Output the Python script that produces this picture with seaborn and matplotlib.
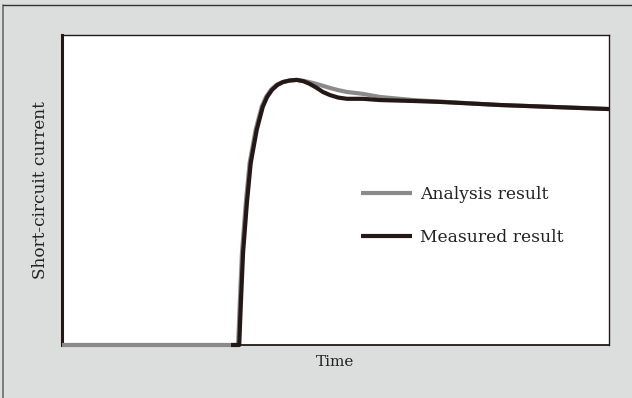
import numpy as np
import pandas as pd
import matplotlib
matplotlib.use("Agg")
import matplotlib.pyplot as plt
import seaborn as sns
from matplotlib.lines import Line2D

# Data (arbitrary time units 0-100, normalised current 0-1)
analysis_t = [0.0, 31.1, 32.2, 32.5, 32.9, 33.6, 34.3, 35.4, 36.5, 37.3, 38.2, 39.2, 40.3, 41.6, 42.9, 44.4, 45.9, 47.5, 49.0, 50.5, 52.1, 55.0, 58.1, 64.2, 69.1, 80.1, 100.0]
analysis_i = [0.0, 0.0, 0.0, 0.135, 0.297, 0.458, 0.587, 0.694, 0.768, 0.800, 0.823, 0.839, 0.848, 0.853, 0.855, 0.851, 0.845, 0.837, 0.829, 0.822, 0.816, 0.810, 0.800, 0.790, 0.785, 0.774, 0.761]

measured_t = [30.9, 32.4, 32.7, 33.1, 33.8, 34.5, 35.6, 36.7, 37.5, 38.4, 39.4, 40.4, 41.6, 42.9, 44.1, 45.3, 46.5, 47.7, 49.0, 50.5, 52.1, 55.0, 58.1, 64.2, 69.1, 80.1, 100.0]
measured_i = [0.0, 0.0, 0.135, 0.297, 0.458, 0.587, 0.694, 0.768, 0.800, 0.823, 0.839, 0.848, 0.853, 0.855, 0.851, 0.842, 0.830, 0.816, 0.806, 0.798, 0.794, 0.794, 0.790, 0.787, 0.784, 0.774, 0.761]

series_names = ["Analysis result", "Measured result"]
x_label = "Time"
y_label = "Short-circuit current"

df = pd.concat([
    pd.DataFrame({"t": analysis_t, "i": analysis_i, "series": series_names[0]}),
    pd.DataFrame({"t": measured_t, "i": measured_i, "series": series_names[1]}),
])

sns.set_theme(style="white")
plt.rcParams["font.family"] = ["DejaVu Serif"]

ink = "#231815"
gray = "#8a8a8a"
fig = plt.figure(figsize=(6.32, 3.98), dpi=100, facecolor="#dcdedd")
ax = fig.add_axes([0.0981, 0.1332, 0.8655, 0.779])
ax.set_facecolor("white")

sns.lineplot(data=df, x="t", y="i", hue="series", sort=False,
             palette={series_names[0]: gray, series_names[1]: ink},
             linewidth=3.0, ax=ax, legend=False, estimator=None, zorder=3)
for ln in ax.get_lines():
    ln.set_solid_capstyle("butt")
    ln.set_solid_joinstyle("round")
    ln.set_clip_on(False)
    ln.set_zorder(3)

ax.set_xlim(0, 100)
ax.set_ylim(0, 1)
ax.set_xticks([])
ax.set_yticks([])
ax.set_xlabel(x_label, fontsize=11, color="#222222", labelpad=7)
ax.set_ylabel(y_label, fontsize=12.2, color="#222222", labelpad=9)

for side, spine in ax.spines.items():
    spine.set_visible(True)
    spine.set_color(ink)
    spine.set_linewidth(1.0)
    spine.set_zorder(2.5)
ax.spines["left"].set_linewidth(2.2)
ax.spines["bottom"].set_linewidth(1.3)

handles = [Line2D([], [], color=gray, lw=3.0, solid_capstyle="butt"),
           Line2D([], [], color=ink, lw=3.0, solid_capstyle="butt")]
ax.legend(handles, series_names, frameon=False, loc="center left",
          bbox_to_anchor=(0.518, 0.416), handlelength=3.0, handletextpad=0.45,
          labelspacing=1.55, fontsize=12.3, labelcolor="#222222")

# figure frame lines (top and left)
fig.add_artist(Line2D([3 / 632, 3 / 632], [0, 1 - 5 / 398], transform=fig.transFigure, color="#6a6a6a", lw=1.2))
fig.add_artist(Line2D([3 / 632, 1], [1 - 5 / 398, 1 - 5 / 398], transform=fig.transFigure, color="#333333", lw=1.0))

fig.savefig("out.png", dpi=100, facecolor=fig.get_facecolor())
